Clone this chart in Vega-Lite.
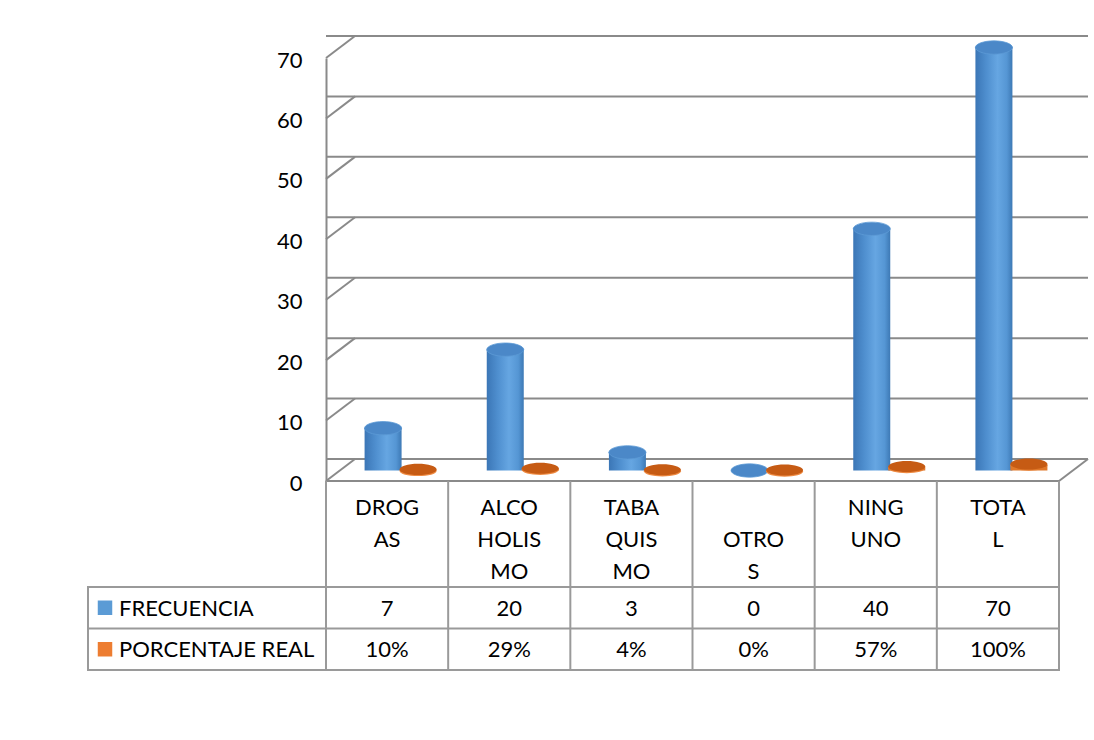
{
  "$schema": "https://vega.github.io/schema/vega-lite/v6.json",
  "autosize": {"type": "pad"},
  "padding": {"left": 86, "top": 31, "right": 10, "bottom": 10},
  "background": "white",
  "config": {
    "view": {"stroke": null},
    "font": "Lato",
    "text": {"font": "Lato", "fontSize": 22, "color": "#000000"}
  },
  "datasets": {
    "vals": [
      {"cat": "DROGAS", "serie": "FRECUENCIA", "value": 7},
      {"cat": "ALCOHOLISMO", "serie": "FRECUENCIA", "value": 20},
      {"cat": "TABAQUISMO", "serie": "FRECUENCIA", "value": 3},
      {"cat": "OTROS", "serie": "FRECUENCIA", "value": 0},
      {"cat": "NINGUNO", "serie": "FRECUENCIA", "value": 40},
      {"cat": "TOTAL", "serie": "FRECUENCIA", "value": 70},
      {"cat": "DROGAS", "serie": "PORCENTAJE REAL", "value": 0.10},
      {"cat": "ALCOHOLISMO", "serie": "PORCENTAJE REAL", "value": 0.29},
      {"cat": "TABAQUISMO", "serie": "PORCENTAJE REAL", "value": 0.04},
      {"cat": "OTROS", "serie": "PORCENTAJE REAL", "value": 0},
      {"cat": "NINGUNO", "serie": "PORCENTAJE REAL", "value": 0.57},
      {"cat": "TOTAL", "serie": "PORCENTAJE REAL", "value": 1.00}
    ],
    "cats": [
      {"cat": "DROGAS", "label": "DROG\nAS"},
      {"cat": "ALCOHOLISMO", "label": "ALCO\nHOLIS\nMO"},
      {"cat": "TABAQUISMO", "label": "TABA\nQUIS\nMO"},
      {"cat": "OTROS", "label": "\nOTRO\nS"},
      {"cat": "NINGUNO", "label": "NING\nUNO"},
      {"cat": "TOTAL", "label": "TOTA\nL"}
    ],
    "series": [
      {"serie": "FRECUENCIA"},
      {"serie": "PORCENTAJE REAL"}
    ],
    "ticks": [
      {"t": 0}, {"t": 10}, {"t": 20}, {"t": 30}, {"t": 40}, {"t": 50}, {"t": 60}, {"t": 70}
    ]
  },
  "columns": 2,
  "spacing": 0,
  "bounds": "flush",
  "align": "each",
  "resolve": {"scale": {"x": "independent", "y": "independent", "color": "independent"}},
  "concat": [
    {
      "width": 238,
      "height": 423,
      "data": {"values": []},
      "mark": "point",
      "encoding": {}
    },
    {
      "width": 733,
      "height": 423,
      "layer": [
        {
          "data": {"name": "ticks"},
          "mark": {"type": "rule", "stroke": "#8a8a8a", "strokeWidth": 2, "xOffset": 29, "x2Offset": 29, "yOffset": -22, "y2Offset": -22},
          "encoding": {
            "y": {
              "field": "t", "type": "quantitative",
              "scale": {"domain": [0, 70], "nice": false, "zero": true},
              "axis": {
                "values": [0, 10, 20, 30, 40, 50, 60, 70],
                "title": null, "grid": false, "ticks": false,
                "domain": true, "domainColor": "#8a8a8a", "domainWidth": 2,
                "labelFont": "Lato", "labelFontSize": 22, "labelColor": "#000000",
                "labelPadding": 24, "labelOffset": 2
              }
            }
          }
        },
        {
          "data": {"name": "ticks"},
          "mark": {"type": "point", "shape": "M0,0L1,-0.759", "size": 3364, "filled": false, "opacity": 1, "stroke": "#8a8a8a", "strokeWidth": 2},
          "encoding": {
            "x": {"datum": "DROGAS", "type": "nominal", "bandPosition": 0,
                  "scale": {"domain": ["DROGAS", "ALCOHOLISMO", "TABAQUISMO", "OTROS", "NINGUNO", "TOTAL"], "type": "band", "paddingInner": 0, "paddingOuter": 0},
                  "axis": null},
            "y": {"field": "t", "type": "quantitative"}
          }
        },
        {
          "data": {"name": "ticks"},
          "transform": [{"filter": "datum.t == 0"}],
          "mark": {"type": "point", "shape": "M0,0L1,-0.759", "size": 3364, "filled": false, "opacity": 1, "stroke": "#8a8a8a", "strokeWidth": 2},
          "encoding": {
            "x": {"datum": "TOTAL", "type": "nominal", "bandPosition": 1},
            "y": {"field": "t", "type": "quantitative"}
          }
        },
        {
          "data": {"name": "ticks"},
          "transform": [{"filter": "datum.t == 0"}],
          "mark": {"type": "rule", "stroke": "#8a8a8a", "strokeWidth": 2},
          "encoding": {
            "y": {"field": "t", "type": "quantitative"}
          }
        },
        {
          "data": {"name": "vals"},
          "transform": [{"filter": "datum.serie == 'FRECUENCIA'"}],
          "mark": {"type": "point", "shape": "M-1,0A1,0.28 0 1,0 1,0A1,0.28 0 1,0 -1,0Z", "size": 1369, "filled": true, "opacity": 1, "xOffset": -4, "yOffset": -10.5,
                   "fill": {"gradient": "linear", "x1": 0, "y1": 0, "x2": 1, "y2": 0,
                            "stops": [{"offset": 0, "color": "#3b76b6"}, {"offset": 0.3, "color": "#4f8fcf"}, {"offset": 0.6, "color": "#66a6e2"}, {"offset": 0.85, "color": "#5596d4"}, {"offset": 1, "color": "#3d79b5"}]}},
          "encoding": {
            "x": {"field": "cat", "type": "nominal"},
            "y": {"field": "value", "type": "quantitative"}
          }
        },
        {
          "data": {"name": "vals"},
          "transform": [{"filter": "datum.serie == 'FRECUENCIA'"}],
          "mark": {"type": "bar", "width": 37, "xOffset": -4, "yOffset": -10.5, "y2Offset": -10.5,
                   "fill": {"gradient": "linear", "x1": 0, "y1": 0, "x2": 1, "y2": 0,
                            "stops": [{"offset": 0, "color": "#3b76b6"}, {"offset": 0.3, "color": "#4f8fcf"}, {"offset": 0.6, "color": "#66a6e2"}, {"offset": 0.85, "color": "#5596d4"}, {"offset": 1, "color": "#3d79b5"}]}},
          "encoding": {
            "x": {"field": "cat", "type": "nominal"},
            "y": {"field": "value", "type": "quantitative"}
          }
        },
        {
          "data": {"name": "vals"},
          "transform": [{"filter": "datum.serie == 'FRECUENCIA'"}],
          "mark": {"type": "point", "shape": "M-1,0A1,0.36 0 1,0 1,0A1,0.36 0 1,0 -1,0Z", "size": 1369, "filled": true, "opacity": 1, "xOffset": -4, "yOffset": -10.5,
                   "fill": "#4b88c8", "stroke": "#5d9ad6", "strokeWidth": 0.8},
          "encoding": {
            "x": {"field": "cat", "type": "nominal"},
            "y": {"field": "value", "type": "quantitative"}
          }
        },
        {
          "data": {"name": "vals"},
          "transform": [{"filter": "datum.serie == 'PORCENTAJE REAL'"}],
          "mark": {"type": "point", "shape": "M-1,0A1,0.28 0 1,0 1,0A1,0.28 0 1,0 -1,0Z", "size": 1369, "filled": true, "opacity": 1, "xOffset": 31, "yOffset": -9.5, "fill": "#ee8a42"},
          "encoding": {
            "x": {"field": "cat", "type": "nominal"},
            "y": {"field": "value", "type": "quantitative"}
          }
        },
        {
          "data": {"name": "vals"},
          "transform": [{"filter": "datum.serie == 'PORCENTAJE REAL'"}],
          "mark": {"type": "bar", "width": 37, "xOffset": 31, "yOffset": -10.5, "y2Offset": -10.5, "fill": "#e0782a"},
          "encoding": {
            "x": {"field": "cat", "type": "nominal"},
            "y": {"field": "value", "type": "quantitative"}
          }
        },
        {
          "data": {"name": "vals"},
          "transform": [{"filter": "datum.serie == 'PORCENTAJE REAL'"}],
          "mark": {"type": "point", "shape": "M-1,0A1,0.3 0 1,0 1,0A1,0.3 0 1,0 -1,0Z", "size": 1369, "filled": true, "opacity": 1, "xOffset": 31, "yOffset": -11, "fill": "#c65b14"},
          "encoding": {
            "x": {"field": "cat", "type": "nominal"},
            "y": {"field": "value", "type": "quantitative"}
          }
        }
      ]
    },
    {
      "width": 238,
      "height": 106,
      "data": {"values": []},
      "mark": "point",
      "encoding": {}
    },
    {
      "width": 733,
      "height": 106,
      "data": {"name": "cats"},
      "layer": [
        {
          "mark": {"type": "rule", "stroke": "#9a9a9a", "strokeWidth": 2},
          "encoding": {
            "x": {"field": "cat", "type": "nominal", "bandPosition": 0,
                  "scale": {"domain": ["DROGAS", "ALCOHOLISMO", "TABAQUISMO", "OTROS", "NINGUNO", "TOTAL"], "type": "band", "paddingInner": 0, "paddingOuter": 0},
                  "axis": null}
          }
        },
        {
          "transform": [{"filter": "datum.cat == 'TOTAL'"}],
          "mark": {"type": "rule", "stroke": "#9a9a9a", "strokeWidth": 2},
          "encoding": {
            "x": {"field": "cat", "type": "nominal", "bandPosition": 1}
          }
        },
        {
          "mark": {"type": "text", "baseline": "top", "align": "center", "lineBreak": "\n", "lineHeight": 32, "dy": -36},
          "encoding": {
            "x": {"field": "cat", "type": "nominal"},
            "text": {"field": "label", "type": "nominal"}
          }
        }
      ]
    },
    {
      "width": 238,
      "height": 83,
      "view": {"stroke": "#9a9a9a", "strokeWidth": 2},
      "data": {"name": "series"},
      "layer": [
        {
          "transform": [{"filter": "datum.serie == 'PORCENTAJE REAL'"}],
          "mark": {"type": "rule", "stroke": "#9a9a9a", "strokeWidth": 2},
          "encoding": {
            "y": {"field": "serie", "type": "nominal", "bandPosition": 0,
                  "scale": {"domain": ["FRECUENCIA", "PORCENTAJE REAL"], "type": "band", "paddingInner": 0, "paddingOuter": 0},
                  "axis": null}
          }
        },
        {
          "mark": {"type": "point", "shape": "square", "size": 210, "filled": true, "opacity": 1, "xOffset": -102},
          "encoding": {
            "y": {"field": "serie", "type": "nominal"},
            "color": {"field": "serie", "type": "nominal",
                      "scale": {"domain": ["FRECUENCIA", "PORCENTAJE REAL"], "range": ["#5b9bd5", "#ed7d31"]},
                      "legend": null}
          }
        },
        {
          "mark": {"type": "text", "align": "left", "baseline": "middle", "dx": -88, "dy": 1},
          "encoding": {
            "y": {"field": "serie", "type": "nominal"},
            "text": {"field": "serie", "type": "nominal"}
          }
        }
      ]
    },
    {
      "width": 733,
      "height": 83,
      "view": {"stroke": "#9a9a9a", "strokeWidth": 2},
      "layer": [
        {
          "data": {"name": "cats"},
          "mark": {"type": "rule", "stroke": "#9a9a9a", "strokeWidth": 2},
          "encoding": {
            "x": {"field": "cat", "type": "nominal", "bandPosition": 0,
                  "scale": {"domain": ["DROGAS", "ALCOHOLISMO", "TABAQUISMO", "OTROS", "NINGUNO", "TOTAL"], "type": "band", "paddingInner": 0, "paddingOuter": 0},
                  "axis": null}
          }
        },
        {
          "data": {"name": "series"},
          "transform": [{"filter": "datum.serie == 'PORCENTAJE REAL'"}],
          "mark": {"type": "rule", "stroke": "#9a9a9a", "strokeWidth": 2},
          "encoding": {
            "y": {"field": "serie", "type": "nominal", "bandPosition": 0,
                  "scale": {"domain": ["FRECUENCIA", "PORCENTAJE REAL"], "type": "band", "paddingInner": 0, "paddingOuter": 0},
                  "axis": null}
          }
        },
        {
          "data": {"name": "vals"},
          "transform": [{"filter": "datum.serie == 'FRECUENCIA'"}],
          "mark": {"type": "text", "baseline": "middle", "align": "center", "dy": 1},
          "encoding": {
            "x": {"field": "cat", "type": "nominal"},
            "y": {"field": "serie", "type": "nominal"},
            "text": {"field": "value", "type": "quantitative", "format": "d"}
          }
        },
        {
          "data": {"name": "vals"},
          "transform": [{"filter": "datum.serie == 'PORCENTAJE REAL'"}],
          "mark": {"type": "text", "baseline": "middle", "align": "center", "dy": 1},
          "encoding": {
            "x": {"field": "cat", "type": "nominal"},
            "y": {"field": "serie", "type": "nominal"},
            "text": {"field": "value", "type": "quantitative", "format": ".0%"}
          }
        }
      ]
    }
  ]
}
